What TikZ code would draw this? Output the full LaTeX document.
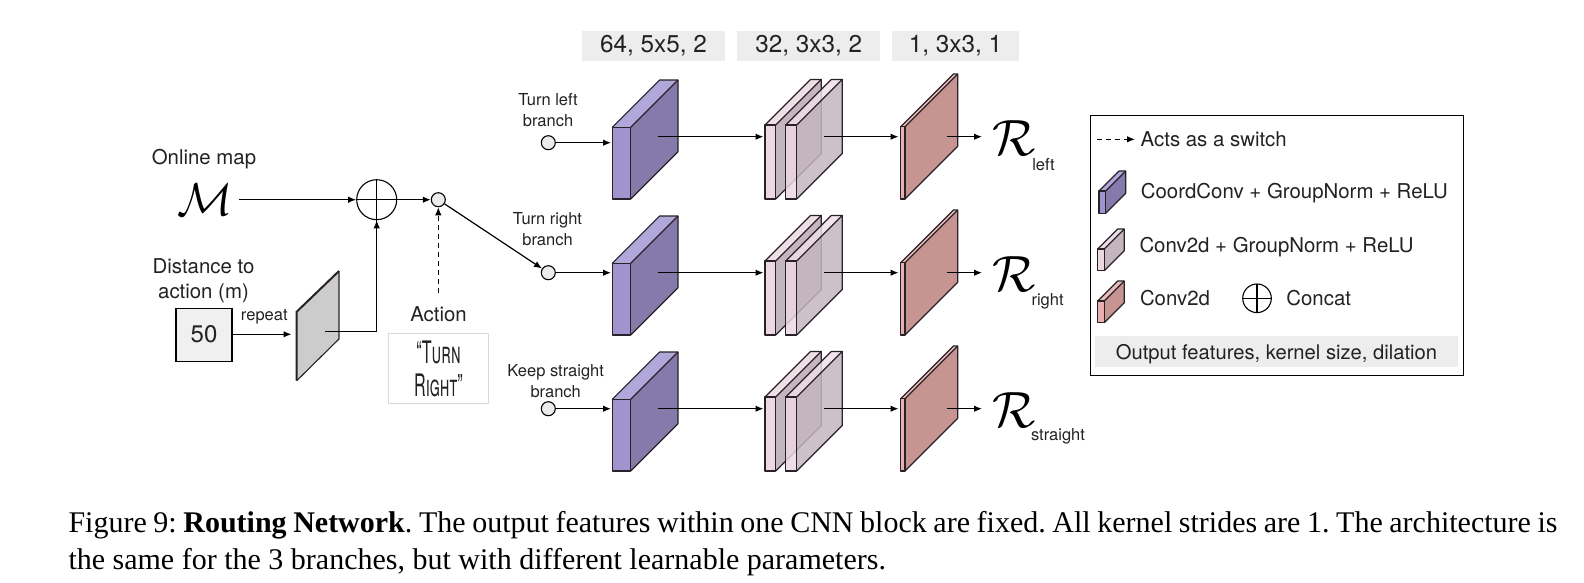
\documentclass[tikz,border=0pt]{standalone}
\usepackage{fontspec}
\usepackage{xcolor}
\setmainfont{TeX Gyre Heros}
\newfontfamily\capfont{Liberation Serif}
\usetikzlibrary{arrows.meta,calc}
\frenchspacing
\definecolor{bluefront}{HTML}{A094CF}
\definecolor{bluetop}{HTML}{B0A8DA}
\definecolor{blueside}{HTML}{857BAB}
\definecolor{pinkfront}{HTML}{EBD8E0}
\definecolor{pinktop}{HTML}{EEDFE5}
\definecolor{pinkside}{HTML}{C4B6BF}
\definecolor{redfront}{HTML}{E8B0AE}
\definecolor{redtop}{HTML}{E8BDBA}
\definecolor{redside}{HTML}{C69491}
\definecolor{edgecol}{HTML}{2A2028}
\definecolor{inkcol}{HTML}{222222}
\tikzset{
	txt/.style={inner sep=0pt,text=inkcol},
	big/.style={txt,font=\fontsize{20.4}{24}\selectfont},
	small/.style={txt,font=\fontsize{16.5}{21}\selectfont,align=center},
	labelbox/.style={fill=black!7,inner sep=0pt,text=inkcol,font=\fontsize{24.3}{28}\selectfont,minimum height=30.5pt},
	swnode/.style={circle,draw=black,fill=black!8,line width=1.1pt,minimum size=14pt,inner sep=0pt},
	sumnode/.style={circle,draw=black,line width=1.1pt,inner sep=0pt,path picture={
		\draw[line width=1.1pt] (path picture bounding box.north)--(path picture bounding box.south);
		\draw[line width=1.1pt] (path picture bounding box.west)--(path picture bounding box.east);}},
	conn/.style={-{Latex[length=8pt,width=6.5pt]},line width=1.2pt,black},
	dashconn/.style={conn,dash pattern=on 5pt off 4pt},
	slabline/.style={draw=edgecol,line width=1.2pt,line join=round},
}
% x, y of the front face, front width, depth, height, colour prefix
\newcommand{\slab}[7][1]{
	\fill[#7front,opacity=#1] (#2,#3) rectangle ({#2+#4},{#3+#6});
	\fill[#7top,opacity=#1] (#2,#3)--({#2+#5},{#3-#5})--({#2+#4+#5},{#3-#5})--({#2+#4},#3)--cycle;
	\fill[#7side,opacity=#1] ({#2+#4},#3)--({#2+#4+#5},{#3-#5})--({#2+#4+#5},{#3+#6-#5})--({#2+#4},{#3+#6})--cycle;
	\draw[slabline] (#2,#3) rectangle ({#2+#4},{#3+#6});
	\draw[slabline] (#2,#3)--({#2+#5},{#3-#5})--({#2+#4+#5},{#3-#5})--({#2+#4+#5},{#3+#6-#5})--({#2+#4},{#3+#6});
	\draw[slabline] ({#2+#4},#3)--({#2+#4+#5},{#3-#5});
}
\begin{document}
\begin{tikzpicture}[x=1pt,y=-1pt]
	\useasboundingbox (0,0) rectangle (1584,582);

	% input part
	\node[big] (maplabel) at (204,159) {Online map};
	\node[scale=1.85] (mapsym) at (205,200) {\Huge $\mathcal{M}$};
	\node[sumnode,minimum size=40pt] (concat) at (376.7,199.7) {};
	\node[swnode] (switch) at (438.3,199.7) {};
	\coordinate (mapout) at (239,199.7);
	\draw[conn] (mapout)--(concat.west);
	\draw[conn] (concat.east)--(switch.west);

	\node[big,align=center] (distlabel) at (203.5,281) {Distance to\\[1pt]action (m)};
	\node[draw=black,fill=black!6,line width=1.1pt,minimum width=56pt,minimum height=53pt,inner sep=0pt,text=inkcol,font=\fontsize{24}{28}\selectfont] (dist) at (204,334.6) {50};
	\node[small] (repeatlabel) at (264.3,316.7) {repeat};
	\coordinate (planein) at (291.5,334.3);
	\draw[conn] (dist.east|-planein)--(planein);
	\fill[black!20] (296.7,311.7)--(339,271)--(339,339)--(296.7,380.7)--cycle;
	\draw[line width=1.1pt,edgecol] (296.7,380.7)--(339,339)--(339,271);
	\draw[line width=2pt,edgecol] (296.7,380.7)--(296.7,311.7)--(339,271);
	\coordinate (planeout) at (325,331.7);
	\draw[line width=1.2pt] (planeout)-|(concat.south);
	\draw[conn] (concat|-planeout)--(concat.south);

	\node[big] (actionlabel) at (438.5,314) {Action};
	\node[draw=black!15,line width=1pt,minimum width=100.4pt,minimum height=70pt,inner sep=0pt] (action) at (438.5,368.3) {};
	\node[txt] (turntext) at (438.5,352) {\scalebox{.52}[1]{\fontsize{31}{32}\selectfont\scshape ``Turn}};
	\node[txt] (righttext) at (438.5,385) {\scalebox{.52}[1]{\fontsize{31}{32}\selectfont\scshape Right''}};
	\coordinate (actionout) at (438.3,293);
	\draw[dashconn] (actionout)--(switch.south);

	% the three branches
	\node[small] (leftlabel) at (548,110) {Turn left\\branch};
	\node[small] (rightlabel) at (547.5,229) {Turn right\\branch};
	\node[small] (straightlabel) at (555.7,381) {Keep straight\\branch};
	\foreach \ry/\rname/\iny in {0/left/142.7,136/right/272.7,272/straight/408.7}{
		\slab{612.3}{127.3+\ry}{18.4}{47.3}{71.7}{blue}
		\slab{765}{125+\ry}{10.7}{45.6}{74}{pink}
		\slab[.85]{785.7}{125+\ry}{11}{45.6}{74}{pink}
		\slab{900.7}{126.7+\ry}{4.3}{52.7}{72.3}{red}
		\node[swnode] (in\rname) at (548.3,\iny) {};
		\coordinate (a\rname) at (611,\iny);
		\coordinate (b\rname) at (658.3,136.7+\ry);
		\coordinate (c\rname) at (763.5,136.7+\ry);
		\coordinate (d\rname) at (824,136.7+\ry);
		\coordinate (e\rname) at (898.5,136.7+\ry);
		\coordinate (f\rname) at (946.7,136.7+\ry);
		\coordinate (g\rname) at (982,136.7+\ry);
		\node[scale=2.05] (out\rname) at (1014,138+\ry) {\Huge $\mathcal{R}$};
		\draw[conn] (in\rname)--(a\rname);
		\draw[conn] (b\rname)--(c\rname);
		\draw[conn] (d\rname)--(e\rname);
		\draw[conn] (f\rname)--(g\rname);
	}
	\node[small] (leftsub) at (1043.5,165) {left};
	\node[small] (rightsub) at (1047.6,301.5) {right};
	\node[small] (straightsub) at (1058,436.7) {straight};
	\draw[conn] (switch)--(inright);

	% header boxes
	\node[labelbox,minimum width=143pt] (headone) at (653.5,46) {64, 5x5, 2};
	\node[labelbox,minimum width=142.5pt] (headtwo) at (808.7,46) {32, 3x3, 2};
	\node[labelbox,minimum width=126.4pt] (headthree) at (955.5,46) {1, 3x3, 1};

	% legend
	\node[draw=black,line width=.9pt,minimum width=373pt,minimum height=260.7pt,inner sep=0pt] (legend) at (1276.5,245.3) {};
	\coordinate (dashstart) at (1096.7,139.3);
	\coordinate (dashend) at (1135,139.3);
	\draw[dashconn] (dashstart)--(dashend);
	\node[big,anchor=west] (switchtext) at (1140.5,139.5) {Acts as a switch};
	\slab{1099}{191}{6.7}{20}{22.3}{blue}
	\node[big,anchor=west] (bluetext) at (1140.7,193.5) {CoordConv + GroupNorm + ReLU};
	\slab{1097.7}{249}{6.6}{20}{21.7}{pink}
	\node[big,anchor=west] (pinktext) at (1139.3,247) {Conv2d + GroupNorm + ReLU};
	\slab{1097.7}{301}{6.6}{20}{21.7}{red}
	\node[big,anchor=west] (redtext) at (1139.8,297.7) {Conv2d};
	\node[sumnode,minimum size=28.6pt] (concatkey) at (1257,298.3) {};
	\node[big,anchor=west] (concattext) at (1286.2,297.7) {Concat};
	\node[fill=black!7,minimum width=363pt,minimum height=31pt,inner sep=0pt] (legendbar) at (1276.5,351) {};
	\node[txt,font=\fontsize{20.2}{24}\selectfont] (bartext) at (1276.5,354) {Output features, kernel size, dilation};

	% caption
	\node[anchor=base west,inner sep=0pt,font=\capfont\fontsize{30}{36}\selectfont] (capone) at (68.3,532) {\hbox to 1489pt{Figure 9: \textbf{Routing Network}. The output features within one CNN block are fixed. All kernel strides are 1. The architecture is}};
	\node[anchor=base west,inner sep=0pt,font=\capfont\fontsize{30}{36}\selectfont] (captwo) at (68.3,569) {the same for the 3 branches, but with different learnable parameters.};
\end{tikzpicture}
\end{document}
